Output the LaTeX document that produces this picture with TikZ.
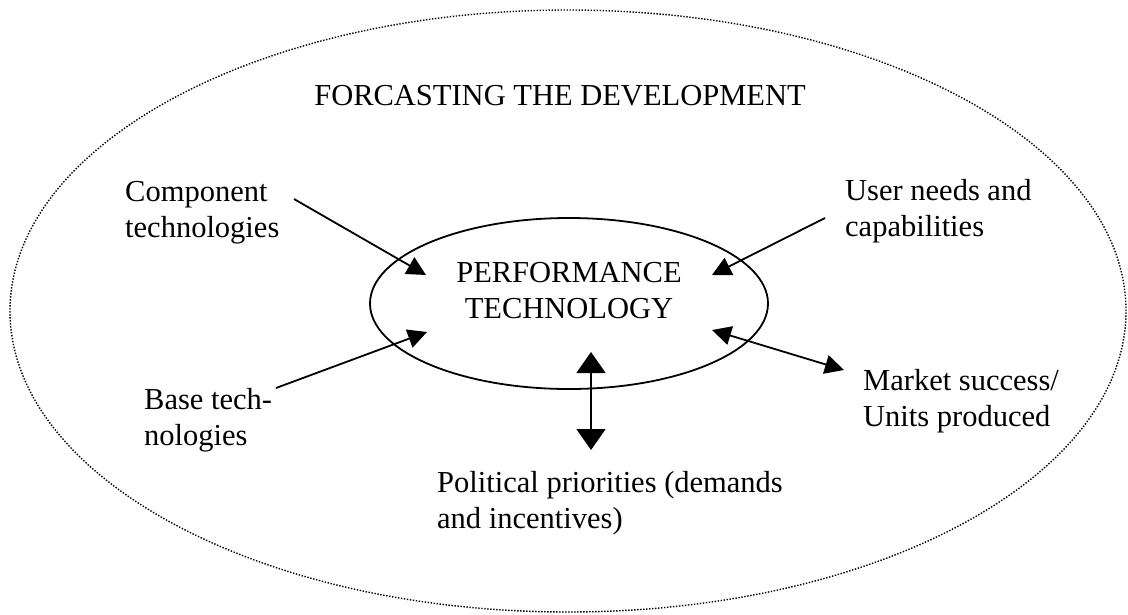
\documentclass[tikz,border=0pt]{standalone}
\usepackage{fontspec}
\setmainfont{Liberation Serif}
\usetikzlibrary{arrows.meta,shapes.geometric}
\tikzset{
  lbl/.style={inner sep=0pt, anchor=base west, font=\fontsize{30.5}{36}\selectfont},
  clbl/.style={inner sep=0pt, anchor=base, font=\fontsize{30.5}{36}\selectfont},
  conn/.style={line width=1.8pt, -{Triangle[length=19pt,width=19pt]}},
  dconn/.style={line width=1.8pt, {Triangle[length=19pt,width=19pt]}-{Triangle[length=19pt,width=19pt]}},
  vconn/.style={line width=1.8pt, {Triangle[length=21pt,width=29pt]}-{Triangle[length=21pt,width=29pt]}},
}
\begin{document}
\begin{tikzpicture}[x=1pt,y=-1pt]
\useasboundingbox (0,0) rectangle (1128,614);
% outer dotted frame
\node (frame) [ellipse, draw, line width=1.4pt, dash pattern=on 1.4pt off 1.6pt,
  inner sep=0pt, minimum width=1116pt, minimum height=602pt] at (568,311) {};
\node (title) [clbl] at (560,105) {FORCASTING THE DEVELOPMENT};
% core ellipse
\node (core) [ellipse, draw, line width=1.8pt, inner sep=0pt,
  minimum width=398pt, minimum height=171pt] at (569,303.5) {};
\node (coretext) [clbl] at (569,282) {\begin{tabular}[t]{@{}c@{}}PERFORMANCE\\TECHNOLOGY\end{tabular}};
% labels
\node (comp) [lbl] at (125,201) {\begin{tabular}[t]{@{}l@{}}Component\\technologies\end{tabular}};
\node (user) [lbl] at (845,200) {\begin{tabular}[t]{@{}l@{}}User needs and\\capabilities\end{tabular}};
\node (base) [lbl] at (144,409) {\begin{tabular}[t]{@{}l@{}}Base tech-\\nologies\end{tabular}};
\node (market) [lbl] at (863,390) {\begin{tabular}[t]{@{}l@{}}Market success/\\Units produced\end{tabular}};
\node (polit) [lbl] at (437,492) {\begin{tabular}[t]{@{}l@{}}Political priorities (demands\\and incentives)\end{tabular}};
% connector ends
\coordinate (compS) at (294,199);
\coordinate (compE) at (426,275);
\coordinate (userS) at (825,218);
\coordinate (userE) at (712,275);
\coordinate (baseS) at (276,388);
\coordinate (baseE) at (427,332);
\coordinate (mktA) at (712,330);
\coordinate (mktB) at (844,370);
\coordinate (polA) at (591,352);
\coordinate (polB) at (591,450);
% connectors
\draw[conn] (compS) -- (compE);
\draw[conn] (userS) -- (userE);
\draw[conn] (baseS) -- (baseE);
\draw[dconn] (mktA) -- (mktB);
\draw[vconn] (polA) -- (polB);
\end{tikzpicture}
\end{document}
